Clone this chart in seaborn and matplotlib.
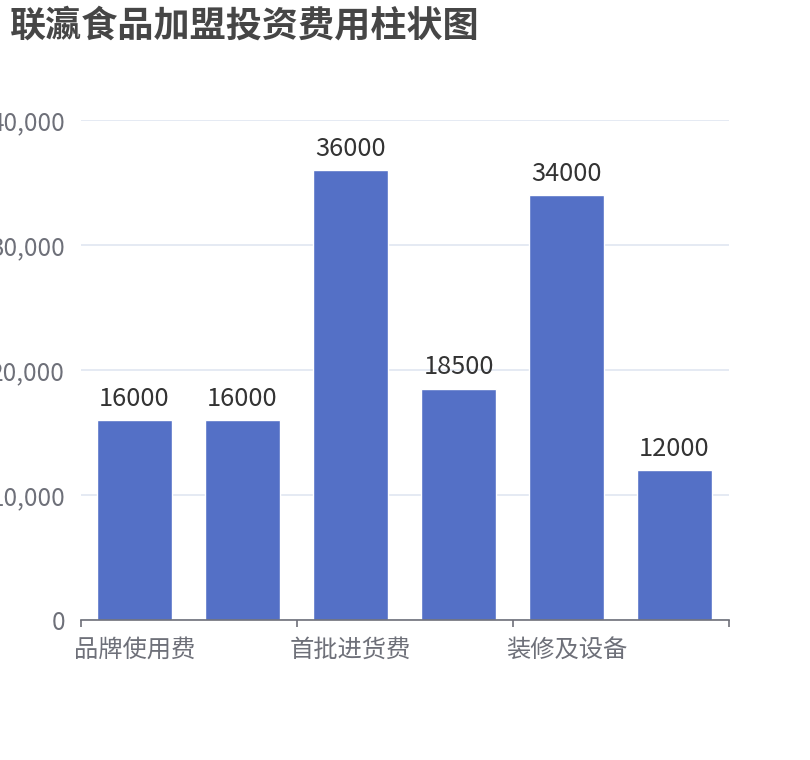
import matplotlib
matplotlib.use("Agg")
import matplotlib.pyplot as plt
import seaborn as sns
import pandas as pd
from matplotlib.ticker import FuncFormatter, FixedLocator

# --- data ---
categories = ["品牌使用费", "加盟费", "首批进货费", "保证金", "装修及设备", "流动资金"]
values = [16000, 16000, 36000, 18500, 34000, 12000]
shown_labels = ["品牌使用费", "首批进货费", "装修及设备"]  # axis shows every other name
y_ticks = [0, 10000, 20000, 30000, 40000]

df = pd.DataFrame({"项目": categories, "费用": values})

sns.set_theme(style="white")
plt.rcParams["font.family"] = ["Noto Sans CJK SC", "DejaVu Sans"]

fig = plt.figure(figsize=(8.1, 7.6), dpi=100)
ax = fig.add_axes([80.5 / 810, 1 - 620 / 760, 648 / 810, 500 / 760])

sns.barplot(data=df, x="项目", y="费用", color="#5470C6", saturation=1,
            width=0.69, ax=ax)

ax.set_xlim(-0.5, len(categories) - 0.5)
ax.set_ylim(0, 40000)

# value labels above bars
for i, v in enumerate(values):
    ax.annotate(str(v), (i, v), xytext=(0, 6), textcoords="offset points",
                ha="center", va="bottom", fontsize=18.3, color="#333333")

# gridlines + y axis
ax.yaxis.set_major_locator(FixedLocator(y_ticks))
ax.yaxis.set_major_formatter(FuncFormatter(lambda v, p: f"{v:,.0f}"))
ax.grid(axis="y", color="#E0E6F1", linewidth=1.2)
ax.set_axisbelow(True)
ax.tick_params(axis="y", length=0, pad=11, labelsize=17.5, labelcolor="#6E7079")

# x axis: ticks on band boundaries every 2 bands, labels centred on bands
ax.xaxis.set_major_locator(FixedLocator([-0.5, 1.5, 3.5, 5.5]))
ax.xaxis.set_major_formatter(FuncFormatter(lambda v, p: ""))
ax.xaxis.set_minor_locator(FixedLocator([0, 2, 4]))
ax.set_xticklabels(shown_labels, minor=True)
ax.tick_params(axis="x", which="major", length=5, width=1.2, color="#6E7079",
               direction="out", bottom=True)
ax.tick_params(axis="x", which="minor", length=0, pad=12, labelsize=17.5,
               labelcolor="#6E7079", bottom=True)

for s in ["left", "right", "top"]:
    ax.spines[s].set_visible(False)
ax.spines["bottom"].set_color("#6E7079")
ax.spines["bottom"].set_linewidth(1.2)

ax.set_xlabel("")
ax.set_ylabel("")

fig.text(10 / 810, 1 - 26 / 760, "联瀛食品加盟投资费用柱状图", fontsize=26,
         fontweight="bold", color="#464646", ha="left", va="center")

fig.savefig("out.png", dpi=100)
